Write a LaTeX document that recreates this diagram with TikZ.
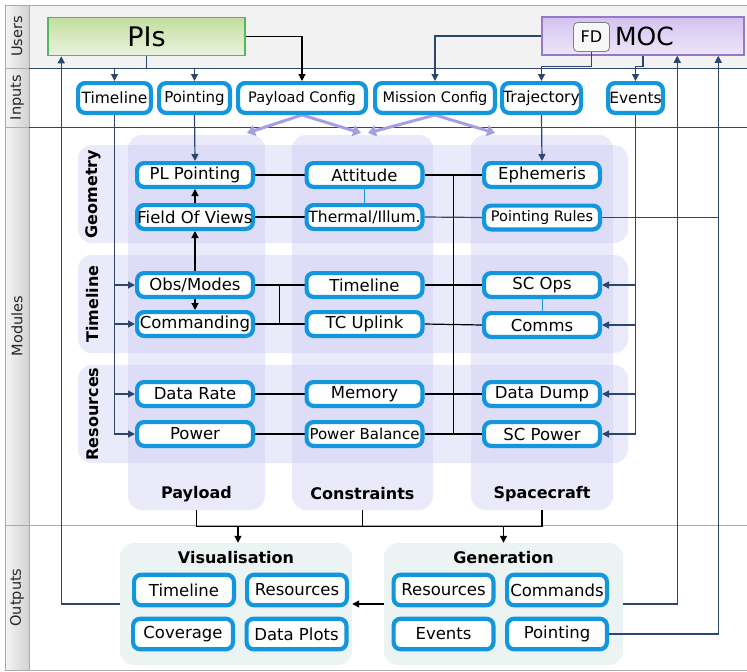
\documentclass[tikz,border=0pt]{standalone}
\usepackage{fontspec}
\setmainfont{DejaVu Sans}
\usetikzlibrary{arrows.meta,calc}
\pgfdeclarelayer{bg}
\pgfdeclarelayer{lines}
\pgfsetlayers{bg,lines,main}
\definecolor{boxblue}{RGB}{18,150,222}
\definecolor{navy}{RGB}{45,70,110}
\definecolor{lavfill}{RGB}{200,200,245}
\definecolor{lavarrow}{RGB}{165,160,228}
\definecolor{outbg}{RGB}{236,243,243}
\definecolor{lanegray}{RGB}{170,170,170}
\definecolor{usersbg}{RGB}{242,242,242}
\definecolor{pigreen}{RGB}{80,185,95}
\definecolor{pitop}{RGB}{196,222,160}
\definecolor{pibot}{RGB}{234,243,222}
\definecolor{mocborder}{RGB}{150,120,200}
\definecolor{moctop}{RGB}{212,194,240}
\definecolor{mocbot}{RGB}{238,230,249}
\begin{document}
\begin{tikzpicture}[x=1pt,y=-1pt,
  fs/.style={font=\fontsize{#1}{#1}\selectfont},
  bfs/.style={font=\fontsize{#1}{#1}\selectfont\bfseries},
  box/.style={draw=boxblue,line width=4.2pt,rounded corners=7pt,fill=white,inner sep=0pt,text=black},
  mod/.style={box,minimum width=115.8pt,minimum height=23.8pt,fs=16.5},
  inp/.style={box,minimum height=29.8pt,fs=15.5},
  outb/.style={box,minimum width=99.8pt,minimum height=30.5pt,fs=16.5},
  colbg/.style={fill=lavfill,fill opacity=0.38,rounded corners=14pt,draw=none,inner sep=0pt},
  grpbg/.style={fill=outbg,rounded corners=14pt,draw=none,inner sep=0pt},
  lanelbl/.style={rotate=90,fs=14.5,text=black!85},
  rowlbl/.style={rotate=90,bfs=16},
  navline/.style={draw=navy,line width=1.2pt},
  navarr/.style={navline,-{Triangle[length=7pt,width=7pt]}},
  blkline/.style={draw=black,line width=1.2pt},
  blkarr/.style={blkline,-{Triangle[length=7pt,width=7pt]}},
  lavarr/.style={draw=lavarrow,line width=3pt,-{Triangle[length=8pt,width=11pt]}},
  thinblue/.style={draw=boxblue,line width=1pt}
]
\useasboundingbox (0,0) rectangle (747,672);
\begin{pgfonlayer}{bg}
\fill[white] (0,0) rectangle (747,672);
\fill[usersbg] (29,5) rectangle (747,68);
\shade[left color=gray!8, right color=gray!35] (5,5) rectangle (29,670);
\draw[lanegray,line width=1pt] (747,5) -- (5,5) -- (5,670) -- (747,670);
\draw[lanegray,line width=1pt] (29,5) -- (29,670);
\draw[lanegray,line width=1pt] (5,68) -- (29,68) (5,127) -- (29,127) (5,525) -- (747,525);
\draw[navy,line width=1pt] (29,68) -- (747,68) (29,127) -- (747,127);
% module backgrounds
\node[colbg,minimum width=137pt,minimum height=375pt] (payCol) at (196.5,322.5) {};
\node[colbg,minimum width=141pt,minimum height=375pt] (conCol) at (362.5,322.5) {};
\node[colbg,minimum width=142pt,minimum height=375pt] (scCol) at (542,322.5) {};
\node[colbg,minimum width=550pt,minimum height=98pt] (rowGeo) at (353,194) {};
\node[colbg,minimum width=550pt,minimum height=98pt] (rowTime) at (353,304) {};
\node[colbg,minimum width=550pt,minimum height=98pt] (rowRes) at (353,414) {};
% output groups
\node[grpbg,minimum width=232pt,minimum height=122pt] (visGroup) at (236,604) {};
\node[grpbg,minimum width=239pt,minimum height=122pt] (genGroup) at (503.5,604) {};
\end{pgfonlayer}

% lane labels
\node[lanelbl] (lUsers) at (17,36.5) {Users};
\node[lanelbl] (lInputs) at (17,97.5) {Inputs};
\node[lanelbl] (lModules) at (17,326) {Modules};
\node[lanelbl] (lOutputs) at (17,597.5) {Outputs};

% users
\node[draw=pigreen,line width=1.5pt,top color=pitop,bottom color=pibot,minimum width=197pt,minimum height=38pt,inner sep=0pt,fs=27] (PIs) at (146.5,36.5) {PIs};
\node[draw=mocborder,line width=1.5pt,top color=moctop,bottom color=mocbot,minimum width=202pt,minimum height=38pt,inner sep=0pt,fs=25] (MOC) at (643,36) {\hspace*{3pt}MOC};
\node[draw=gray,fill=gray!6,line width=0.8pt,rounded corners=4pt,minimum width=36pt,minimum height=29pt,inner sep=0pt,fs=16] (FD) at (591.5,37) {FD};

% inputs
\node[inp,minimum width=72.8pt] (inTimeline) at (114.5,98) {Timeline};
\node[inp,minimum width=70.8pt,fs=15] (inPointing) at (194.5,98) {Pointing};
\node[inp,minimum width=127.8pt,fs=14.5] (inPayload) at (302,98) {Payload Config};
\node[inp,minimum width=119.8pt,fs=14.5] (inMission) at (435,98) {Mission Config};
\node[inp,minimum width=78.8pt] (inTraj) at (541.5,98) {Trajectory};
\node[inp,minimum width=54.8pt] (inEvents) at (635.5,98) {Events};

% row labels
\node[rowlbl] (lGeo) at (93,194) {Geometry};
\node[rowlbl] (lTime) at (93,304) {Timeline};
\node[rowlbl] (lRes) at (93,414) {Resources};

% column titles
\node[bfs=16] (tPay) at (196.5,494) {Payload};
\node[bfs=16] (tCon) at (362.5,494) {Constraints};
\node[bfs=16] (tSC) at (542,494) {Spacecraft};

% payload modules
\node[mod] (plPointing) at (195,175) {PL Pointing};
\node[mod] (plFOV) at (195,217) {Field Of Views};
\node[mod] (plObs) at (195,285) {Obs/Modes};
\node[mod] (plCmd) at (195,324) {Commanding};
\node[mod] (plRate) at (195,394) {Data Rate};
\node[mod] (plPower) at (195,434) {Power};
% constraints modules
\node[mod] (cAtt) at (364.5,175) {Attitude};
\node[mod,fs=15.5] (cTherm) at (364.5,217) {Thermal/Illum.};
\node[mod] (cTime) at (364.5,285) {Timeline};
\node[mod] (cTC) at (364.5,324) {TC Uplink};
\node[mod] (cMem) at (364.5,394) {Memory};
\node[mod,fs=15] (cPB) at (364.5,434) {Power Balance};
% spacecraft modules
\node[mod] (scEphem) at (542,175) {Ephemeris};
\node[mod,fs=14.5] (scRules) at (542,217.5) {Pointing Rules};
\node[mod] (scOps) at (542,285) {SC Ops};
\node[mod] (scComms) at (542,325) {Comms};
\node[mod] (scDump) at (542,394) {Data Dump};
\node[mod] (scPower) at (542,434) {SC Power};

% outputs
\node[bfs=16] (tVis) at (236,558) {Visualisation};
\node[bfs=16] (tGen) at (503.5,558) {Generation};
\node[outb] (vTimeline) at (184,590) {Timeline};
\node[outb] (vRes) at (297,590) {Resources};
\node[outb] (vCov) at (183,634) {Coverage};
\node[outb] (vPlots) at (296.5,634) {Data Plots};
\node[outb] (gRes) at (443.5,590) {Resources};
\node[outb] (gCmd) at (557,590) {Commands};
\node[outb] (gEvents) at (443.5,634) {Events};
\node[outb] (gPointing) at (557,634) {Pointing};

\coordinate (pisUp) at ($(PIs.south west)+(14,0)$);
\coordinate (mocUpA) at ($(MOC.south west)+(136,0)$);
\coordinate (mocUpB) at ($(MOC.south west)+(177,0)$);
\coordinate (lavPay) at (247,133);
\coordinate (lavConA) at (361,133);
\coordinate (lavConB) at (368,133);
\coordinate (lavSC) at (495,133);

\begin{pgfonlayer}{lines}
% users to inputs
\draw[navline] (PIs.south) -- ++(0,12) coordinate (pisplit);
\draw[navarr] (pisplit) -| (inTimeline.north);
\draw[navarr] (pisplit) -| (inPointing.north);
\draw[blkarr] (PIs.east) -| (inPayload.north);
\draw[navarr] (MOC.west) -| (inMission.north);
\draw[navline] (MOC.south) -- ++(0,11) coordinate (mocsplitB);
\coordinate (mocsplit) at (FD.south |- mocsplitB);
\draw[navarr] (mocsplit) -| (inTraj.north);
\draw[navarr] (mocsplitB) -| (inEvents.north);
% config arrows
\draw[lavarr] (inPayload.south) -- (lavPay);
\draw[lavarr] (inPayload.south) -- (lavConA);
\draw[lavarr] (inMission.south) -- (lavConB);
\draw[lavarr] (inMission.south) -- (lavSC);
% inputs to modules
\draw[navarr] (inPointing.south) -- (plPointing.north);
\draw[navarr] (inTraj.south) -- (scEphem.north);
\draw[navarr] (inTimeline.south) |- (plPower.west);
\draw[navarr] (inTimeline.south |- plObs.west) -- (plObs.west);
\draw[navarr] (inTimeline.south |- plCmd.west) -- (plCmd.west);
\draw[navarr] (inTimeline.south |- plRate.west) -- (plRate.west);
\draw[navarr] (inEvents.south) |- (scPower.east);
\draw[navarr] (inEvents.south |- scOps.east) -- (scOps.east);
\draw[navarr] (inEvents.south |- scComms.east) -- (scComms.east);
\draw[navarr] (inEvents.south |- scDump.east) -- (scDump.east);
% payload internal
\draw[blkarr] (plFOV.north) -- (plPointing.south);
\draw[blkarr] (plObs.north) -- (plFOV.south);
\draw[blkarr] (plObs.south) -- (plCmd.north);
% payload to constraints
\draw[blkline] (plPointing.east) -- (cAtt.west);
\draw[blkline] (plFOV.east) -- (cTherm.west);
\draw[blkline] (plObs.east) -- (cTime.west);
\draw[blkline] (plCmd.east) -- (cTC.west);
\draw[blkline] ($(plObs.east)!0.5!(cTime.west)$) -- ($(plCmd.east)!0.5!(cTC.west)$);
\draw[blkline] (plRate.east) -- (cMem.west);
\draw[blkline] (plPower.east) -- (cPB.west);
\draw[thinblue] (cAtt.south) -- (cTherm.north);
% constraints to spacecraft
\draw[blkline] (cAtt.east) -- (scEphem.west);
\draw[navline] (cTherm.east) -- (scRules.west);
\draw[blkline] (cTime.east) -- (scOps.west);
\draw[blkline] (cTC.east) -- (scComms.west);
\draw[blkline] (cMem.east) -- (scDump.west);
\draw[blkline] (cPB.east) -- (scPower.west);
\draw[blkline] ($(cAtt.east)!0.5!(scEphem.west)$) -- ($(cPB.east)!0.5!(scPower.west)$);
\draw[thinblue] (scOps.south) -- (scComms.north);
\draw[navline] (scRules.east) -- (scRules.east -| mocUpB);
% modules to outputs
\draw[blkline] (payCol.south) -- ++(0,16) -| (scCol.south);
\draw[blkline] (conCol.south) -- ++(0,16);
\draw[blkarr] ($(visGroup.north)+(2,-17)$) -- ($(visGroup.north)+(2,0)$);
\draw[blkarr] ($(genGroup.north)+(0,-17)$) -- (genGroup.north);
\draw[blkarr] (genGroup.west) -- (visGroup.east);
% outputs back to users
\draw[navarr] (visGroup.west) -| (pisUp);
\draw[navarr] (genGroup.east) -| (mocUpA);
\draw[navarr] (gPointing.east) -| (mocUpB);
\end{pgfonlayer}
\draw[navline] (FD.south) -- (mocsplit);
\end{tikzpicture}
\end{document}
